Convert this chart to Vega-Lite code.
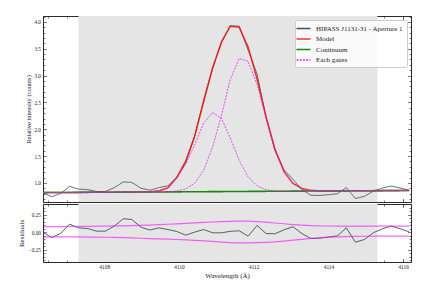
{
  "$schema": "https://vega.github.io/schema/vega-lite/v6.json",
  "padding": {"left": 17, "top": 15, "right": 5, "bottom": 5},
  "background": "white",
  "datasets": {
    "spec": [
      {"w": 4106.35, "obs": 0.820, "mod": 0.820, "cont": 0.820, "g1": 0.820, "g2": 0.820, "res": 0.000, "up": 0.076, "lo": -0.067},
      {"w": 4106.59, "obs": 0.744, "mod": 0.821, "cont": 0.821, "g1": 0.821, "g2": 0.821, "res": -0.077, "up": 0.077, "lo": -0.067},
      {"w": 4106.83, "obs": 0.802, "mod": 0.822, "cont": 0.822, "g1": 0.822, "g2": 0.822, "res": -0.020, "up": 0.079, "lo": -0.068},
      {"w": 4107.07, "obs": 0.937, "mod": 0.823, "cont": 0.823, "g1": 0.823, "g2": 0.823, "res": 0.114, "up": 0.080, "lo": -0.068},
      {"w": 4107.31, "obs": 0.885, "mod": 0.824, "cont": 0.824, "g1": 0.824, "g2": 0.824, "res": 0.061, "up": 0.082, "lo": -0.069},
      {"w": 4107.55, "obs": 0.876, "mod": 0.825, "cont": 0.825, "g1": 0.825, "g2": 0.825, "res": 0.051, "up": 0.083, "lo": -0.070},
      {"w": 4107.79, "obs": 0.840, "mod": 0.826, "cont": 0.826, "g1": 0.826, "g2": 0.826, "res": 0.014, "up": 0.085, "lo": -0.071},
      {"w": 4108.03, "obs": 0.841, "mod": 0.827, "cont": 0.827, "g1": 0.827, "g2": 0.827, "res": 0.014, "up": 0.086, "lo": -0.073},
      {"w": 4108.27, "obs": 0.914, "mod": 0.828, "cont": 0.828, "g1": 0.828, "g2": 0.828, "res": 0.086, "up": 0.088, "lo": -0.076},
      {"w": 4108.51, "obs": 1.019, "mod": 0.829, "cont": 0.829, "g1": 0.829, "g2": 0.829, "res": 0.190, "up": 0.090, "lo": -0.079},
      {"w": 4108.74, "obs": 1.010, "mod": 0.830, "cont": 0.830, "g1": 0.830, "g2": 0.830, "res": 0.180, "up": 0.093, "lo": -0.083},
      {"w": 4108.98, "obs": 0.902, "mod": 0.831, "cont": 0.831, "g1": 0.832, "g2": 0.831, "res": 0.071, "up": 0.096, "lo": -0.087},
      {"w": 4109.22, "obs": 0.865, "mod": 0.836, "cont": 0.832, "g1": 0.836, "g2": 0.832, "res": 0.029, "up": 0.100, "lo": -0.092},
      {"w": 4109.46, "obs": 0.913, "mod": 0.852, "cont": 0.832, "g1": 0.852, "g2": 0.832, "res": 0.061, "up": 0.106, "lo": -0.096},
      {"w": 4109.70, "obs": 0.945, "mod": 0.908, "cont": 0.833, "g1": 0.905, "g2": 0.836, "res": 0.037, "up": 0.112, "lo": -0.100},
      {"w": 4109.94, "obs": 1.108, "mod": 1.099, "cont": 0.834, "g1": 1.084, "g2": 0.849, "res": 0.009, "up": 0.118, "lo": -0.105},
      {"w": 4110.18, "obs": 1.365, "mod": 1.408, "cont": 0.835, "g1": 1.355, "g2": 0.888, "res": -0.043, "up": 0.125, "lo": -0.110},
      {"w": 4110.42, "obs": 1.872, "mod": 1.872, "cont": 0.836, "g1": 1.712, "g2": 0.996, "res": 0.000, "up": 0.131, "lo": -0.117},
      {"w": 4110.66, "obs": 2.549, "mod": 2.512, "cont": 0.837, "g1": 2.112, "g2": 1.237, "res": 0.037, "up": 0.138, "lo": -0.125},
      {"w": 4110.90, "obs": 3.135, "mod": 3.145, "cont": 0.838, "g1": 2.315, "g2": 1.668, "res": -0.010, "up": 0.144, "lo": -0.133},
      {"w": 4111.14, "obs": 3.621, "mod": 3.631, "cont": 0.839, "g1": 2.200, "g2": 2.270, "res": -0.010, "up": 0.150, "lo": -0.142},
      {"w": 4111.37, "obs": 3.929, "mod": 3.918, "cont": 0.840, "g1": 1.838, "g2": 2.920, "res": 0.011, "up": 0.154, "lo": -0.148},
      {"w": 4111.61, "obs": 3.921, "mod": 3.902, "cont": 0.841, "g1": 1.423, "g2": 3.320, "res": 0.019, "up": 0.157, "lo": -0.153},
      {"w": 4111.85, "obs": 3.476, "mod": 3.533, "cont": 0.842, "g1": 1.112, "g2": 3.263, "res": -0.057, "up": 0.155, "lo": -0.153},
      {"w": 4112.09, "obs": 3.030, "mod": 2.936, "cont": 0.843, "g1": 0.943, "g2": 2.836, "res": 0.094, "up": 0.150, "lo": -0.150},
      {"w": 4112.33, "obs": 2.214, "mod": 2.234, "cont": 0.844, "g1": 0.873, "g2": 2.205, "res": -0.020, "up": 0.141, "lo": -0.145},
      {"w": 4112.57, "obs": 1.602, "mod": 1.626, "cont": 0.845, "g1": 0.852, "g2": 1.619, "res": -0.024, "up": 0.130, "lo": -0.138},
      {"w": 4112.81, "obs": 1.245, "mod": 1.212, "cont": 0.846, "g1": 0.847, "g2": 1.211, "res": 0.033, "up": 0.119, "lo": -0.127},
      {"w": 4113.05, "obs": 1.066, "mod": 0.990, "cont": 0.847, "g1": 0.847, "g2": 0.990, "res": 0.076, "up": 0.108, "lo": -0.115},
      {"w": 4113.29, "obs": 0.875, "mod": 0.895, "cont": 0.848, "g1": 0.848, "g2": 0.895, "res": -0.020, "up": 0.099, "lo": -0.102},
      {"w": 4113.53, "obs": 0.771, "mod": 0.862, "cont": 0.849, "g1": 0.849, "g2": 0.862, "res": -0.091, "up": 0.092, "lo": -0.090},
      {"w": 4113.77, "obs": 0.767, "mod": 0.853, "cont": 0.850, "g1": 0.850, "g2": 0.853, "res": -0.086, "up": 0.089, "lo": -0.080},
      {"w": 4114.00, "obs": 0.781, "mod": 0.851, "cont": 0.851, "g1": 0.851, "g2": 0.851, "res": -0.070, "up": 0.087, "lo": -0.072},
      {"w": 4114.24, "obs": 0.799, "mod": 0.852, "cont": 0.852, "g1": 0.852, "g2": 0.852, "res": -0.053, "up": 0.086, "lo": -0.067},
      {"w": 4114.48, "obs": 0.914, "mod": 0.853, "cont": 0.853, "g1": 0.853, "g2": 0.853, "res": 0.061, "up": 0.086, "lo": -0.063},
      {"w": 4114.72, "obs": 0.711, "mod": 0.854, "cont": 0.854, "g1": 0.854, "g2": 0.854, "res": -0.143, "up": 0.086, "lo": -0.061},
      {"w": 4114.96, "obs": 0.749, "mod": 0.855, "cont": 0.855, "g1": 0.855, "g2": 0.855, "res": -0.106, "up": 0.086, "lo": -0.059},
      {"w": 4115.20, "obs": 0.846, "mod": 0.856, "cont": 0.856, "g1": 0.856, "g2": 0.856, "res": -0.010, "up": 0.086, "lo": -0.058},
      {"w": 4115.44, "obs": 0.904, "mod": 0.857, "cont": 0.857, "g1": 0.857, "g2": 0.857, "res": 0.047, "up": 0.086, "lo": -0.057},
      {"w": 4115.68, "obs": 0.943, "mod": 0.857, "cont": 0.857, "g1": 0.857, "g2": 0.857, "res": 0.086, "up": 0.086, "lo": -0.057},
      {"w": 4115.92, "obs": 0.905, "mod": 0.858, "cont": 0.858, "g1": 0.858, "g2": 0.858, "res": 0.047, "up": 0.086, "lo": -0.057},
      {"w": 4116.16, "obs": 0.863, "mod": 0.859, "cont": 0.859, "g1": 0.859, "g2": 0.859, "res": 0.004, "up": 0.086, "lo": -0.057}
    ],
    "fitrange": [{"start": 4107.31, "end": 4115.31}]
  },
  "vconcat": [
    {
      "width": 368,
      "height": 186,
      "resolve": {"axis": {"x": "independent", "y": "independent"}},
      "layer": [
        {
          "data": {"name": "fitrange"},
          "mark": {"type": "rect", "color": "#e5e5e5"},
          "encoding": {
            "x": {"field": "start", "type": "quantitative", "scale": {"domain": [4106.36, 4116.21], "nice": false, "zero": false},
                  "axis": {"orient": "bottom", "values": [4108, 4110, 4112, 4114, 4116], "labels": false, "tickSize": -3.5, "title": null, "minExtent": 0, "maxExtent": 0}},
            "x2": {"field": "end"}
          }
        },
        {
          "data": {"name": "spec"},
          "mark": {"type": "line", "strokeWidth": 0.9, "clip": true},
          "encoding": {
            "x": {"field": "w", "type": "quantitative", "scale": {"domain": [4106.36, 4116.21], "nice": false, "zero": false},
                  "axis": {"orient": "bottom", "values": [4106.5, 4107, 4107.5, 4108.5, 4109, 4109.5, 4110.5, 4111, 4111.5, 4112.5, 4113, 4113.5, 4114.5, 4115, 4115.5, 4116], "labels": false, "tickSize": -2, "title": null, "minExtent": 0, "maxExtent": 0}},
            "y": {"field": "obs", "type": "quantitative", "scale": {"domain": [0.645, 4.11], "nice": false, "zero": false},
                  "axis": {"orient": "left", "values": [1, 1.5, 2, 2.5, 3, 3.5, 4], "format": ".1f", "tickSize": -3.5, "labelPadding": 6, "title": "Relative intensity (counts)", "titleFontSize": 6.5, "titlePadding": 2.8, "minExtent": 9, "maxExtent": 9}},
            "color": {"datum": "HIPASS J1131-31 - Aperture 1", "scale": {"domain": ["HIPASS J1131-31 - Aperture 1", "Model", "Continuum", "Each gauss"], "range": ["#3b5658", "rgba(255,0,0,0.8)", "#138a13", "#e024e6"]}, "legend": {"title": null}},
            "strokeDash": {"datum": "HIPASS J1131-31 - Aperture 1", "scale": {"domain": ["HIPASS J1131-31 - Aperture 1", "Model", "Continuum", "Each gauss"], "range": [[1, 0], [1, 0], [1, 0], [2, 1.2]]}, "legend": {"title": null}}
          }
        },
        {
          "data": {"name": "spec"},
          "mark": {"type": "line", "strokeWidth": 1.5, "clip": true},
          "encoding": {
            "x": {"field": "w", "type": "quantitative", "scale": {"domain": [4106.36, 4116.21], "nice": false, "zero": false},
                  "axis": {"orient": "top", "values": [4108, 4110, 4112, 4114, 4116], "labels": false, "tickSize": -3.5, "title": null, "minExtent": 0, "maxExtent": 0}},
            "y": {"field": "mod", "type": "quantitative", "scale": {"domain": [0.645, 4.11], "nice": false, "zero": false},
                  "axis": {"orient": "left", "values": [0.7, 0.8, 0.9, 1.1, 1.2, 1.3, 1.4, 1.6, 1.7, 1.8, 1.9, 2.1, 2.2, 2.3, 2.4, 2.6, 2.7, 2.8, 2.9, 3.1, 3.2, 3.3, 3.4, 3.6, 3.7, 3.8, 3.9, 4.1], "labels": false, "tickSize": -2, "title": null, "minExtent": 0, "maxExtent": 0}},
            "color": {"datum": "Model"},
            "strokeDash": {"datum": "Model"}
          }
        },
        {
          "data": {"name": "spec"},
          "mark": {"type": "line", "strokeWidth": 1.6, "clip": true},
          "encoding": {
            "x": {"field": "w", "type": "quantitative", "scale": {"domain": [4106.36, 4116.21], "nice": false, "zero": false},
                  "axis": {"orient": "top", "values": [4106.5, 4107, 4107.5, 4108.5, 4109, 4109.5, 4110.5, 4111, 4111.5, 4112.5, 4113, 4113.5, 4114.5, 4115, 4115.5, 4116], "labels": false, "tickSize": -2, "title": null, "minExtent": 0, "maxExtent": 0}},
            "y": {"field": "cont", "type": "quantitative", "scale": {"domain": [0.645, 4.11], "nice": false, "zero": false},
                  "axis": {"orient": "right", "values": [1, 1.5, 2, 2.5, 3, 3.5, 4], "labels": false, "tickSize": -3.5, "title": null, "minExtent": 0, "maxExtent": 0}},
            "color": {"datum": "Continuum"},
            "strokeDash": {"datum": "Continuum"}
          }
        },
        {
          "data": {"name": "spec"},
          "mark": {"type": "line", "strokeWidth": 0.8, "clip": true},
          "encoding": {
            "x": {"field": "w", "type": "quantitative", "scale": {"domain": [4106.36, 4116.21], "nice": false, "zero": false}, "axis": null},
            "y": {"field": "g1", "type": "quantitative", "scale": {"domain": [0.645, 4.11], "nice": false, "zero": false},
                  "axis": {"orient": "right", "values": [0.7, 0.8, 0.9, 1.1, 1.2, 1.3, 1.4, 1.6, 1.7, 1.8, 1.9, 2.1, 2.2, 2.3, 2.4, 2.6, 2.7, 2.8, 2.9, 3.1, 3.2, 3.3, 3.4, 3.6, 3.7, 3.8, 3.9, 4.1], "labels": false, "tickSize": -2, "title": null, "minExtent": 0, "maxExtent": 0}},
            "color": {"datum": "Each gauss"},
            "strokeDash": {"datum": "Each gauss"}
          }
        },
        {
          "data": {"name": "spec"},
          "mark": {"type": "line", "strokeWidth": 0.8, "clip": true},
          "encoding": {
            "x": {"field": "w", "type": "quantitative", "scale": {"domain": [4106.36, 4116.21], "nice": false, "zero": false}, "axis": null},
            "y": {"field": "g2", "type": "quantitative", "scale": {"domain": [0.645, 4.11], "nice": false, "zero": false}, "axis": null},
            "color": {"datum": "Each gauss"},
            "strokeDash": {"datum": "Each gauss"}
          }
        }
      ]
    },
    {
      "width": 368,
      "height": 58,
      "resolve": {"axis": {"x": "independent", "y": "independent"}},
      "layer": [
        {
          "data": {"name": "fitrange"},
          "mark": {"type": "rect", "color": "#e5e5e5"},
          "encoding": {
            "x": {"field": "start", "type": "quantitative", "scale": {"domain": [4106.36, 4116.21], "nice": false, "zero": false},
                  "axis": {"orient": "bottom", "values": [4108, 4110, 4112, 4114, 4116], "format": "d", "tickSize": -3.5, "labelPadding": 5.5, "title": "Wavelength (Å)", "titleFontSize": 7, "titlePadding": 2, "minExtent": 7, "maxExtent": 7}},
            "x2": {"field": "end"}
          }
        },
        {
          "data": {"name": "spec"},
          "mark": {"type": "line", "strokeWidth": 0.9, "color": "#3b5658", "clip": true},
          "encoding": {
            "x": {"field": "w", "type": "quantitative", "scale": {"domain": [4106.36, 4116.21], "nice": false, "zero": false},
                  "axis": {"orient": "bottom", "values": [4106.5, 4107, 4107.5, 4108.5, 4109, 4109.5, 4110.5, 4111, 4111.5, 4112.5, 4113, 4113.5, 4114.5, 4115, 4115.5, 4116], "labels": false, "tickSize": -2, "title": null, "minExtent": 0, "maxExtent": 0}},
            "y": {"field": "res", "type": "quantitative", "scale": {"domain": [-0.425, 0.4], "nice": false, "zero": false},
                  "axis": {"orient": "left", "values": [-0.25, 0, 0.25], "format": ".2f", "tickSize": -3.5, "labelPadding": 6, "title": "Residuals", "titleFontSize": 7, "titlePadding": 5, "minExtent": 14, "maxExtent": 14}}
          }
        },
        {
          "mark": {"type": "rule", "strokeWidth": 1.8, "color": "#138a13"},
          "encoding": {
            "y": {"datum": 0, "type": "quantitative", "scale": {"domain": [-0.425, 0.4], "nice": false, "zero": false},
                  "axis": {"orient": "left", "values": [-0.4, -0.35, -0.3, -0.2, -0.15, -0.1, -0.05, 0.05, 0.1, 0.15, 0.2, 0.3, 0.35, 0.4], "labels": false, "tickSize": -2, "title": null, "minExtent": 0, "maxExtent": 0}}
          }
        },
        {
          "data": {"name": "spec"},
          "mark": {"type": "line", "strokeWidth": 1.2, "color": "rgba(255,0,255,0.6)", "clip": true},
          "encoding": {
            "x": {"field": "w", "type": "quantitative", "scale": {"domain": [4106.36, 4116.21], "nice": false, "zero": false},
                  "axis": {"orient": "top", "values": [4108, 4110, 4112, 4114, 4116], "labels": false, "tickSize": -3.5, "title": null, "minExtent": 0, "maxExtent": 0}},
            "y": {"field": "up", "type": "quantitative", "scale": {"domain": [-0.425, 0.4], "nice": false, "zero": false},
                  "axis": {"orient": "right", "values": [-0.25, 0, 0.25], "labels": false, "tickSize": -3.5, "title": null, "minExtent": 0, "maxExtent": 0}}
          }
        },
        {
          "data": {"name": "spec"},
          "mark": {"type": "line", "strokeWidth": 1.2, "color": "rgba(255,0,255,0.6)", "clip": true},
          "encoding": {
            "x": {"field": "w", "type": "quantitative", "scale": {"domain": [4106.36, 4116.21], "nice": false, "zero": false},
                  "axis": {"orient": "top", "values": [4106.5, 4107, 4107.5, 4108.5, 4109, 4109.5, 4110.5, 4111, 4111.5, 4112.5, 4113, 4113.5, 4114.5, 4115, 4115.5, 4116], "labels": false, "tickSize": -2, "title": null, "minExtent": 0, "maxExtent": 0}},
            "y": {"field": "lo", "type": "quantitative", "scale": {"domain": [-0.425, 0.4], "nice": false, "zero": false},
                  "axis": {"orient": "right", "values": [-0.4, -0.35, -0.3, -0.2, -0.15, -0.1, -0.05, 0.05, 0.1, 0.15, 0.2, 0.3, 0.35, 0.4], "labels": false, "tickSize": -2, "title": null, "minExtent": 0, "maxExtent": 0}}
          }
        }
      ]
    }
  ],
  "config": {
    "font": "Liberation Serif",
    "view": {"stroke": null},
    "concat": {"spacing": 0},
    "axis": {"domain": true, "domainColor": "#222", "domainWidth": 0.8, "grid": false, "tickColor": "#222", "tickWidth": 0.6, "labelFont": "Liberation Serif", "labelFontSize": 5.3, "labelColor": "#222", "titleFont": "Liberation Serif", "titleFontWeight": "normal", "titleColor": "#222", "zindex": 1},
    "legend": {"orient": "top-right", "offset": 4, "labelFont": "Liberation Serif", "labelFontSize": 7, "labelColor": "#222", "fillColor": "rgba(255,255,255,0.8)", "strokeColor": "#cccccc", "cornerRadius": 2, "padding": 4, "rowPadding": 2.5, "labelOffset": 8, "symbolType": "M-2,0H2", "symbolSize": 49, "symbolStrokeWidth": 1.5}
  }
}
